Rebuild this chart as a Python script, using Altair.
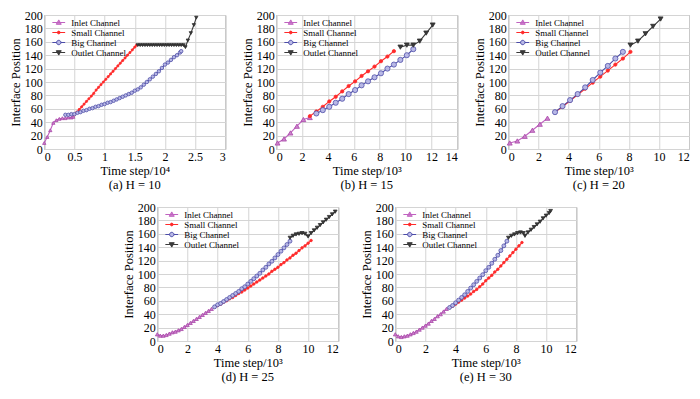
import altair as alt
import pandas as pd

SERIES = ["Inlet Channel", "Small Channel", "Big Channel", "Outlet Channel"]
LINE_COLORS = ["#C062C0", "#FF2A2A", "#4B4BA8", "#3A3A3A"]
FILL_COLORS = ["#CC80CC", "#FF2A2A", "#B8B8E6", "#3A3A3A"]
STROKE_COLORS = ["#A848A8", "#FF2A2A", "#5050A8", "#2E2E2E"]
SHAPES = ["triangle-up", "circle", "circle", "triangle-down"]
SIZE_FACTORS = [1.0, 0.45, 1.1, 1.0]
LEGEND_PATHS = [
    "M-1.6,0H1.6M0,-0.65L0.62,0.45L-0.62,0.45Z",
    "M-1.6,0H1.6M-0.35,0A0.35,0.35,0,1,0,0.35,0A0.35,0.35,0,1,0,-0.35,0Z",
    "M-1.6,0H-0.55M0.55,0H1.6M-0.55,0A0.55,0.55,0,1,0,0.55,0A0.55,0.55,0,1,0,-0.55,0Z",
    "M-1.6,0H1.6M0,0.65L0.62,-0.45L-0.62,-0.45Z",
]
Y_TICKS = [0, 20, 40, 60, 80, 100, 120, 140, 160, 180, 200]

# ---------------- (a) H = 10, time step / 10^4 ----------------
a_inlet_x = [0, 0.05, 0.1, 0.15, 0.2, 0.25, 0.3, 0.35, 0.4, 0.45, 0.48]
a_inlet_y = [9, 18, 28, 39, 43, 45, 46, 46, 47, 47, 48]
a_small_x = [0.5, 0.54, 0.58, 0.62, 0.66, 0.70, 0.74, 0.78, 0.82, 0.86, 0.90, 0.94, 0.98, 1.02,
             1.06, 1.10, 1.14, 1.18, 1.22, 1.26, 1.30, 1.34, 1.38, 1.42, 1.46, 1.50, 1.53]
a_small_y = [51, 55, 59, 63, 67, 71, 75, 79, 83, 88, 92, 96, 100, 104,
             108, 112, 116, 120, 124, 128, 132, 136, 140, 144, 148, 152, 155]
a_big_x = [0.35, 0.4, 0.45, 0.5, 0.55, 0.6, 0.65, 0.7, 0.75, 0.8, 0.85, 0.9, 0.95, 1.0, 1.05, 1.1,
           1.15, 1.2, 1.25, 1.3, 1.35, 1.4, 1.45, 1.5, 1.55, 1.6, 1.65, 1.7, 1.75, 1.8, 1.85, 1.9,
           1.95, 2.0, 2.05, 2.1, 2.15, 2.2, 2.25, 2.27]
a_big_y = [51, 51, 52, 52, 54, 55, 57, 58, 60, 61, 63, 64, 66, 67, 69, 70,
           72, 74, 76, 78, 80, 82, 84, 87, 89, 92, 96, 100, 104, 108, 112, 116,
           121, 126, 129, 133, 137, 140, 144, 146]
a_outlet_x = [1.55, 1.59, 1.63, 1.67, 1.71, 1.75, 1.79, 1.83, 1.87, 1.91, 1.95, 1.99, 2.03, 2.07,
              2.11, 2.15, 2.19, 2.23, 2.27, 2.31, 2.34, 2.38, 2.43, 2.48, 2.52]
a_outlet_y = [155, 155, 155, 155, 155, 155, 155, 155, 155, 155, 155, 155, 155, 155,
              155, 155, 155, 155, 155, 155, 152, 162, 173, 185, 196]

# ---------------- (b) H = 15, time step / 10^3 ----------------
b_inlet_x = [0.1, 0.6, 1.1, 1.6, 2.1, 2.6]
b_inlet_y = [9, 15, 24, 34, 44, 47]
b_small_x = [2.6, 3.1, 3.6, 4.1, 4.6, 5.1, 5.6, 6.1, 6.6, 7.1, 7.6, 8.1, 8.6, 9.1]
b_small_y = [49, 56, 63, 71, 78, 86, 94, 101, 109, 116, 123, 131, 138, 146]
b_big_x = [3.1, 3.6, 4.1, 4.6, 5.1, 5.6, 6.1, 6.6, 7.1, 7.6, 8.1, 8.6, 9.1, 9.6, 10.1, 10.6]
b_big_y = [53, 58, 63, 69, 75, 82, 88, 95, 101, 107, 113, 120, 126, 133, 140, 149]
b_outlet_x = [9.6, 10.1, 10.6, 11.1, 11.6, 12.1]
b_outlet_y = [152, 155, 155, 161, 173, 185]

# ---------------- (c) H = 20 ----------------
c_inlet_x = [0.1, 0.6, 1.1, 1.6, 2.1, 2.6]
c_inlet_y = [9, 12, 19, 28, 37, 46]
c_small_x = [3.1, 3.6, 4.1, 4.6, 5.1, 5.6, 6.1, 6.6, 7.1, 7.6, 8.1]
c_small_y = [55, 63, 72, 81, 90, 99, 108, 117, 126, 135, 145]
c_big_x = [3.1, 3.6, 4.1, 4.6, 5.1, 5.6, 6.1, 6.6, 7.1, 7.6]
c_big_y = [55, 64, 73, 82, 92, 103, 114, 124, 135, 145]
c_outlet_x = [8.1, 8.6, 9.1, 9.6, 10.1]
c_outlet_y = [155, 161, 172, 183, 194]

# ---------------- (d) H = 25 ----------------
d_inlet_x = [0, 0.2, 0.4, 0.6, 0.8, 1.0, 1.2, 1.4, 1.6, 1.8, 2.0, 2.2, 2.4, 2.6, 2.8, 3.0, 3.2, 3.4, 3.6]
d_inlet_y = [10, 8, 8, 9, 11, 13, 14, 16, 18, 21, 24, 27, 30, 33, 36, 39, 42, 45, 48]
d_small_x = [3.8, 4.0, 4.2, 4.4, 4.6, 4.8, 5.0, 5.2, 5.4, 5.6, 5.8, 6.0, 6.2, 6.4, 6.6, 6.8, 7.0,
             7.2, 7.4, 7.6, 7.8, 8.0, 8.2, 8.4, 8.6, 8.8, 9.0, 9.2, 9.4, 9.6, 9.8, 10.0, 10.2]
d_small_y = [51, 53, 55, 58, 60, 63, 65, 68, 71, 73, 76, 79, 82, 85, 88, 91, 94,
             97, 100, 104, 107, 110, 114, 117, 121, 124, 128, 131, 135, 139, 142, 146, 150]
d_big_x = [3.8, 4.0, 4.2, 4.4, 4.6, 4.8, 5.0, 5.2, 5.4, 5.6, 5.8, 6.0, 6.2, 6.4, 6.6, 6.8, 7.0,
           7.2, 7.4, 7.6, 7.8, 8.0, 8.2, 8.4, 8.6, 8.8]
d_big_y = [51, 54, 56, 59, 62, 65, 68, 71, 74, 78, 81, 85, 89, 93, 97, 101, 106,
           110, 115, 119, 124, 129, 134, 139, 144, 149]
d_outlet_x = [8.8, 9.0, 9.2, 9.4, 9.6, 9.8, 10.0, 10.2, 10.4, 10.6, 10.8, 11.0, 11.2, 11.4, 11.6, 11.8]
d_outlet_y = [154, 157, 159, 160, 161, 160, 156, 161, 165, 169, 173, 177, 181, 185, 189, 193]

# ---------------- (e) H = 30 ----------------
e_inlet_x = [0, 0.2, 0.4, 0.6, 0.8, 1.0, 1.2, 1.4, 1.6, 1.8, 2.0, 2.2, 2.4, 2.6, 2.8, 3.0, 3.2, 3.4]
e_inlet_y = [10, 7, 6, 7, 8, 10, 12, 14, 17, 20, 23, 26, 30, 33, 37, 40, 44, 48]
e_small_x = [3.6, 3.8, 4.0, 4.2, 4.4, 4.6, 4.8, 5.0, 5.2, 5.4, 5.6, 5.8, 6.0, 6.2, 6.4, 6.6, 6.8,
             7.0, 7.2, 7.4, 7.6, 7.8, 8.0, 8.2, 8.4]
e_small_y = [50, 52, 55, 58, 61, 64, 67, 70, 74, 77, 81, 85, 90, 94, 98, 103, 107,
             112, 117, 122, 127, 132, 137, 142, 147]
e_big_x = [3.6, 3.8, 4.0, 4.2, 4.4, 4.6, 4.8, 5.0, 5.2, 5.4, 5.6, 5.8, 6.0, 6.2, 6.4, 6.6, 6.8,
           7.0, 7.2, 7.4]
e_big_y = [50, 53, 57, 61, 65, 69, 74, 79, 84, 89, 94, 99, 105, 110, 116, 122, 128,
           135, 142, 149]
e_outlet_x = [7.5, 7.7, 7.9, 8.1, 8.3, 8.5, 8.6, 8.8, 9.0, 9.2, 9.4, 9.6, 9.8, 10.0, 10.2, 10.3]
e_outlet_y = [154, 157, 159, 161, 162, 161, 157, 162, 166, 170, 174, 178, 183, 187, 191, 194]

W, H = 181, 134
SERIF = "Times New Roman, Liberation Serif, serif"


def make_panel(series_xy, xmax, xticks, xtitle, caption, msize):
    xscale = alt.Scale(domain=[0, xmax], nice=False, zero=True)
    yscale = alt.Scale(domain=[0, 200], nice=False)
    common = dict(labelFont=SERIF, labelFontSize=12, labelColor="black", titleFont=SERIF,
                  titleFontSize=12.5, titleFontWeight=400, titleColor="black")
    xaxis = alt.Axis(values=xticks, format="~g", title=xtitle, **common)
    yaxis = alt.Axis(values=Y_TICKS, title="Interface Position", **common)
    layers = []
    for i, name in enumerate(SERIES):
        xs, ys = series_xy[i]
        df = pd.DataFrame({"t": xs, "pos": ys})
        base = alt.Chart(df).encode(
            x=alt.X("t:Q", scale=xscale, axis=xaxis),
            y=alt.Y("pos:Q", scale=yscale, axis=yaxis),
        )
        layers.append(base.mark_line(color=LINE_COLORS[i], strokeWidth=1.1))
        layers.append(base.mark_point(shape=SHAPES[i], filled=True, fill=FILL_COLORS[i],
                                      stroke=STROKE_COLORS[i], strokeWidth=0.8,
                                      size=msize * SIZE_FACTORS[i], opacity=1))
    leg = alt.Legend(orient="none", legendX=10, legendY=3, title=None, labelFont=SERIF,
                     labelFontSize=9, labelColor="black", symbolSize=64, symbolStrokeWidth=1,
                     labelOffset=8, rowPadding=0, padding=0, labelLimit=200)
    legend_layer = alt.Chart(pd.DataFrame({"series": SERIES})).transform_filter("false").mark_point(
        filled=True, opacity=1).encode(
        shape=alt.Shape("series:N", scale=alt.Scale(domain=SERIES, range=LEGEND_PATHS), legend=leg),
        stroke=alt.Stroke("series:N", scale=alt.Scale(domain=SERIES, range=LINE_COLORS), legend=leg),
        fill=alt.Fill("series:N", scale=alt.Scale(domain=SERIES, range=FILL_COLORS), legend=leg),
    )
    layers.append(legend_layer)
    return alt.layer(*layers).properties(
        width=W, height=H,
        title=alt.TitleParams(caption, orient="bottom", font=SERIF, fontSize=12.5,
                              fontWeight=400, color="black", offset=2, frame="group"),
    )


pa = make_panel([(a_inlet_x, a_inlet_y), (a_small_x, a_small_y), (a_big_x, a_big_y), (a_outlet_x, a_outlet_y)],
                3, [0, 0.5, 1, 1.5, 2, 2.5, 3], "Time step/10\u2074", "(a) H = 10", 11)
pb = make_panel([(b_inlet_x, b_inlet_y), (b_small_x, b_small_y), (b_big_x, b_big_y), (b_outlet_x, b_outlet_y)],
                14, [0, 2, 4, 6, 8, 10, 12, 14], "Time step/10\u00b3", "(b) H = 15", 24)
pc = make_panel([(c_inlet_x, c_inlet_y), (c_small_x, c_small_y), (c_big_x, c_big_y), (c_outlet_x, c_outlet_y)],
                12, [0, 2, 4, 6, 8, 10, 12], "Time step/10\u00b3", "(c) H = 20", 24)
pd_ = make_panel([(d_inlet_x, d_inlet_y), (d_small_x, d_small_y), (d_big_x, d_big_y), (d_outlet_x, d_outlet_y)],
                 12, [0, 2, 4, 6, 8, 10, 12], "Time step/10\u00b3", "(d) H = 25", 14)
pe = make_panel([(e_inlet_x, e_inlet_y), (e_small_x, e_small_y), (e_big_x, e_big_y), (e_outlet_x, e_outlet_y)],
                12, [0, 2, 4, 6, 8, 10, 12], "Time step/10\u00b3", "(e) H = 30", 14)

indep = dict(shape="independent", stroke="independent", fill="independent")
top = alt.hconcat(pa, pb, pc, spacing=14).resolve_scale(**indep).resolve_legend(**indep)
bottom = alt.hconcat(pd_, pe, spacing=20).resolve_scale(**indep).resolve_legend(**indep)

chart = alt.vconcat(top, bottom, spacing=8, center=True).resolve_scale(**indep).resolve_legend(**indep).properties(
    padding={"left": 0, "top": 0, "right": 0, "bottom": 0}
).configure(font=SERIF).configure_axis(
    labelFont=SERIF, labelFontSize=12, labelColor="black",
    titleFont=SERIF, titleFontSize=12.5, titleFontWeight=400, titleColor="black",
    gridColor="#D4D4D4", gridWidth=1, domain=False, ticks=False,
    labelPadding=2, titlePadding=2,
).configure_view(stroke="#8C8C8C", strokeWidth=1)

chart.save("out.html", embed_options={"renderer": "svg", "actions": False})
